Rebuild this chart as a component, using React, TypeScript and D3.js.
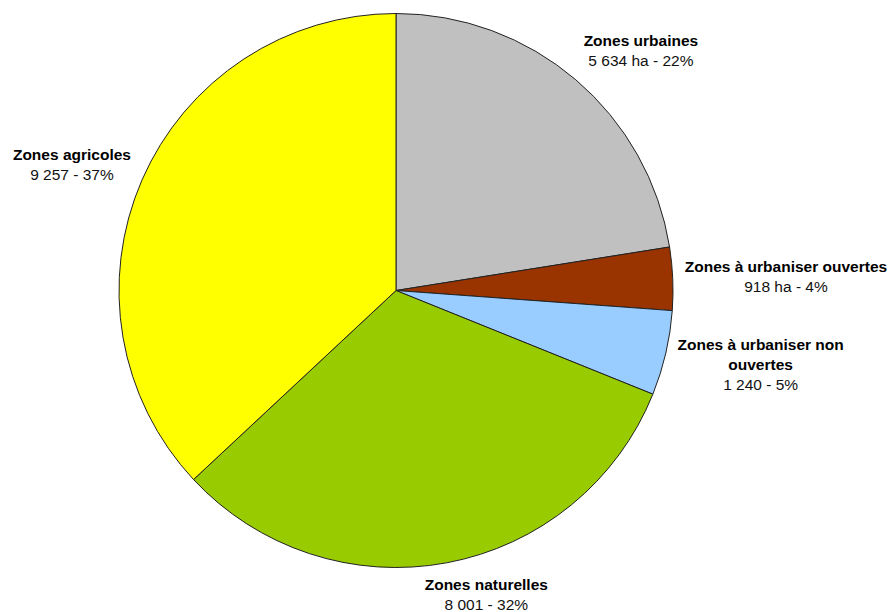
import React, { useEffect, useRef } from "react";
import * as d3 from "d3";

const categories = [
  "Zones urbaines",
  "Zones à urbaniser ouvertes",
  "Zones à urbaniser non\nouvertes",
  "Zones naturelles",
  "Zones agricoles",
];
const values = [5634, 918, 1240, 8001, 9257];
const units = ["ha", "ha", "", "", ""];
const colors = ["#C0C0C0", "#993300", "#99CCFF", "#99CC00", "#FFFF00"];

const W = 890;
const H = 612;

export default function App() {
  const ref = useRef<SVGSVGElement | null>(null);

  useEffect(() => {
    const svg = d3.select(ref.current);
    svg.selectAll("*").remove();

    const cx = 396;
    const cy = 290.5;
    const r = 277;
    const total = d3.sum(values);

    const data = categories.map((c, i) => ({ name: c, value: values[i], color: colors[i], unit: units[i] }));
    const pie = d3
      .pie<any>()
      .value((d: any) => d.value)
      .sort(null)
      .startAngle(0)
      .endAngle(2 * Math.PI);
    const arcs = pie(data);
    const arc = d3.arc<any>().innerRadius(0).outerRadius(r);

    const g = svg.append("g").attr("transform", `translate(${cx},${cy})`);
    g.selectAll("path")
      .data(arcs)
      .join("path")
      .attr("d", arc as any)
      .attr("fill", (d: any) => d.data.color)
      .attr("stroke", "#222")
      .attr("stroke-width", 1)
      .attr("stroke-linejoin", "round");

    const fmt = (v: number) => d3.format(",")(v).replace(/,/g, " ");
    const lineH = 20;
    const gap = 12;

    arcs.forEach((a: any) => {
      const mid = (a.startAngle + a.endAngle) / 2;
      const s = Math.sin(mid);
      const c = Math.cos(mid);
      const px = cx + (r + gap) * s;
      const py = cy - (r + gap) * c;
      const pct = Math.round((a.data.value / total) * 100);
      const valueText = `${fmt(a.data.value)}${a.data.unit ? " " + a.data.unit : ""} - ${pct}%`;
      const nameLines = a.data.name.split("\n");
      const lines = [...nameLines.map((t: string) => ({ t, bold: true })), { t: valueText, bold: false }];

      const tg = svg.append("g");
      const texts = lines.map((l: any, i: number) =>
        tg
          .append("text")
          .attr("text-anchor", "middle")
          .attr("font-family", "'Liberation Sans', Arial, sans-serif")
          .attr("font-size", 15.5)
          .attr("font-weight", l.bold ? "bold" : "normal")
          .attr("fill", l.bold ? "#000" : "#111")
          .attr("x", 0)
          .attr("y", i * lineH + 15)
          .text(l.t)
      );
      let w = 0;
      texts.forEach((t: any) => {
        const n = t.node() as SVGTextElement;
        w = Math.max(w, n.getComputedTextLength());
      });
      const h = lines.length * lineH;
      const t = Math.max(-1, Math.min(1, s / 0.3));
      const v = Math.max(-1, Math.min(1, c * 1.3));
      const bx = px + (t * w) / 2;
      const by = py - (v * h) / 2;
      tg.attr("transform", `translate(${bx},${by - h / 2})`);
    });
  }, []);

  return (
    <svg
      ref={ref}
      width={W}
      height={H}
      style={{ position: "absolute", left: 0, top: 0, background: "#fff" }}
    />
  );
}
